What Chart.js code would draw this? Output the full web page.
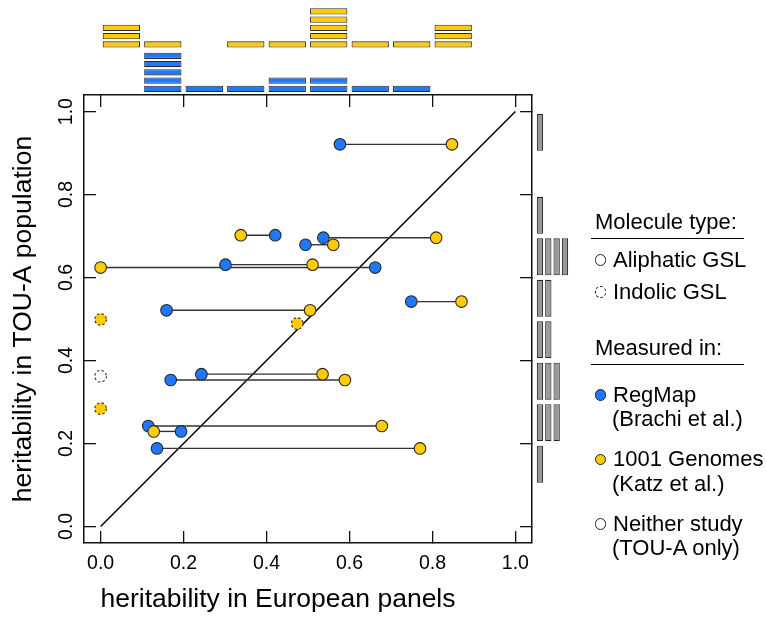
<!DOCTYPE html>
<html>
<head>
<meta charset="utf-8">
<script src="https://cdn.jsdelivr.net/npm/chart.js@4.4.1/dist/chart.umd.min.js"></script>
<style>
  body { margin: 0; background: #fff; font-family: "Liberation Sans", Arial, sans-serif; }
  #wrap { position: relative; width: 766px; height: 620px; overflow: hidden; }
  canvas { position: absolute; left: 0; top: 0; }
  .leg { position: absolute; font-size: 22px; line-height: 22px; white-space: nowrap; color: #000; }
  .rule { position: absolute; left: 591px; width: 153px; height: 0; border-top: 1.5px solid #000; }
  .dot { position: absolute; left: 594.5px; width: 9.5px; height: 9.5px; border-radius: 50%; border: 1px solid #222; background: #fff; }
  #xtitle { position: absolute; left: 0; width: 556px; top: 585px; text-align: center;
            font-size: 26.5px; line-height: 26.5px; white-space: nowrap; color: #000; }
</style>
</head>
<body>
<div id="wrap">
  <canvas id="main" width="766" height="620"></canvas>
  <canvas id="topHist" width="766" height="620"></canvas>
  <canvas id="sideHist" width="766" height="620"></canvas>

  <div id="xtitle">heritability in European panels</div>

  <div class="leg" style="left:595px; top:211px;">Molecule type:</div>
  <div class="rule" style="top:237.5px;"></div>
  <div class="dot" style="top:254px;"></div>
  <div class="leg" style="left:613px; top:249px;">Aliphatic GSL</div>
  <div class="dot" style="top:286px; border-style:dashed;"></div>
  <div class="leg" style="left:613px; top:281px;">Indolic GSL</div>

  <div class="leg" style="left:595px; top:337px;">Measured in:</div>
  <div class="rule" style="top:363.5px;"></div>
  <div class="dot" style="top:389px; background:#1f78ff;"></div>
  <div class="leg" style="left:613px; top:384px;">RegMap</div>
  <div class="leg" style="left:612px; top:408px;">(Brachi et al.)</div>
  <div class="dot" style="top:453.5px; background:#ffcc00;"></div>
  <div class="leg" style="left:613px; top:448px;">1001 Genomes</div>
  <div class="leg" style="left:612px; top:472.5px;">(Katz et al.)</div>
  <div class="dot" style="top:518px;"></div>
  <div class="leg" style="left:613px; top:512.5px;">Neither study</div>
  <div class="leg" style="left:612px; top:536.5px;">(TOU-A only)</div>
</div>
<script>
// aliphatic GSL traits found in both panels: TOU-A heritability and the two European estimates
const touA    = [0.921, 0.702, 0.696, 0.679, 0.631, 0.624, 0.542, 0.521, 0.367, 0.353, 0.242, 0.229, 0.188];
const regMap  = [0.577, 0.421, 0.537, 0.494, 0.301, 0.662, 0.749, 0.159, 0.243, 0.169, 0.115, 0.194, 0.136];
const genomes = [0.847, 0.338, 0.809, 0.561, 0.511, 0.000, 0.870, 0.505, 0.535, 0.589, 0.678, 0.128, 0.770];

// indolic GSL only in 1001 Genomes
const indolicTouA    = [0.499, 0.489, 0.284];
const indolicGenomes = [0.000, 0.474, 0.000];

// indolic GSL in neither study (sits on x = 0)
const neitherTouA   = [0.362];
const neitherEurope = [0.000];

const identity   = [0, 1];
const tickValues = [0, 0.2, 0.4, 0.6, 0.8, 1.0];
const tickLabels = ['0.0', '0.2', '0.4', '0.6', '0.8', '1.0'];
const binEdges   = [0, 0.1, 0.2, 0.3, 0.4, 0.5, 0.6, 0.7, 0.8, 0.9, 1.0];

const BLUE = '#1f78ff';
const YELLOW = '#ffcc00';
const RIM = '#2a2a2a';
const FONT = 'Liberation Sans';

function pairs(xs, ys) {
    return xs.map((x, i) => ({ x: x, y: ys[i] }));
}

function countBins(values) {
    const counts = binEdges.slice(1).map(() => 0);
    values.forEach(v => {
        let k = binEdges.findIndex((e, i) => i < binEdges.length - 1 && v >= e && v < binEdges[i + 1]);
        if (k < 0) k = counts.length - 1;
        counts[k]++;
    });
    return counts;
}

// one small box per observation, stacked from "base"
function cells(counts, base, horizontal) {
    const out = [];
    counts.forEach((n, k) => {
        const mid = (binEdges[k] + binEdges[k + 1]) / 2;
        for (let j = 0; j < n; j++) {
            const span = [base + j + 0.12, base + j + 0.88];
            out.push(horizontal ? { x: span, y: mid } : { x: mid, y: span });
        }
    });
    return out;
}

// dashed rim for the indolic points
const dashedRims = {
    id: 'dashedRims',
    beforeDatasetDraw(chart, args) {
        if (chart.data.datasets[args.index].dashed) chart.ctx.setLineDash([2.4, 2.2]);
    },
    afterDatasetDraw(chart) {
        chart.ctx.setLineDash([]);
    }
};

function binTicks(scale) {
    scale.ticks = binEdges.map(v => ({ value: v }));
}

window.onload = function() {
    const frame = { display: true, color: '#111', width: 1.5 };
    const inner = { drawOnChartArea: false, tickLength: -12, color: '#111', lineWidth: 1.3 };
    const setTicks = s => { s.ticks = tickValues.map(v => ({ value: v })); };

    // connecting segments, one per trait
    const segments = touA.map((y, i) => ({
        data: [{ x: regMap[i], y: y }, { x: genomes[i], y: y }],
        showLine: true, borderColor: '#333', borderWidth: 1.4,
        pointRadius: 0, order: 3
    }));

    const pointStyle = { pointRadius: 5.8, pointBorderWidth: 1.1, pointBorderColor: RIM, pointHoverRadius: 5.8 };

    new Chart(document.getElementById('main'), {
        type: 'scatter',
        data: {
            datasets: [
                Object.assign({ data: pairs(genomes, touA), pointBackgroundColor: YELLOW, order: 1 }, pointStyle),
                Object.assign({ data: pairs(indolicGenomes, indolicTouA), pointBackgroundColor: YELLOW, dashed: true, order: 1 }, pointStyle),
                Object.assign({ data: pairs(neitherEurope, neitherTouA), pointBackgroundColor: '#fff', dashed: true, order: 1 }, pointStyle),
                Object.assign({ data: pairs(regMap, touA), pointBackgroundColor: BLUE, order: 2 }, pointStyle),
                ...segments,
                { data: identity.map(v => ({ x: v, y: v })), showLine: true, borderColor: '#000', borderWidth: 1.5, pointRadius: 0, order: 4 }
            ]
        },
        options: {
            responsive: false,
            animation: false,
            devicePixelRatio: 1,
            layout: { padding: 0 },
            plugins: { legend: { display: false }, tooltip: { enabled: false } },
            scales: {
                x: {
                    type: 'linear', position: 'bottom', min: -0.04, max: 1.04,
                    afterBuildTicks: setTicks,
                    afterFit: s => { s.height = 77; },
                    grid: inner, border: frame,
                    ticks: { font: { family: FONT, size: 19.5 }, color: '#000', padding: 21, maxRotation: 0,
                             callback: (v, i) => tickLabels[i] }
                },
                x2: {
                    type: 'linear', position: 'top', min: -0.04, max: 1.04,
                    afterBuildTicks: setTicks,
                    afterFit: s => { s.height = 95; },
                    grid: inner, border: frame,
                    ticks: { display: false }
                },
                y: {
                    type: 'linear', position: 'left', min: -0.04, max: 1.04,
                    afterBuildTicks: setTicks,
                    afterFit: s => { s.width = 84; },
                    grid: inner, border: frame,
                    ticks: { font: { family: FONT, size: 19.5 }, color: '#000', padding: 16,
                             minRotation: 90, maxRotation: 90, crossAlign: 'center',
                             callback: (v, i) => tickLabels[i] },
                    title: { display: true, text: 'heritability in TOU-A population', color: '#000',
                             font: { family: FONT, size: 26.5 }, padding: { top: 8, bottom: 0 } }
                },
                y2: {
                    type: 'linear', position: 'right', min: -0.04, max: 1.04,
                    afterBuildTicks: setTicks,
                    afterFit: s => { s.width = 234; },
                    grid: inner, border: frame,
                    ticks: { display: false }
                }
            }
        },
        plugins: [dashedRims]
    });

    // top margin: RegMap below, 1001 Genomes stacked above it
    const blueCounts = countBins(regMap);
    const yellowCounts = countBins(genomes.concat(indolicGenomes));
    const yellowBase = Math.max(...blueCounts) + 0.37;

    new Chart(document.getElementById('topHist'), {
        type: 'bar',
        data: {
            datasets: [
                { data: cells(blueCounts, 0, false), backgroundColor: BLUE },
                { data: cells(yellowCounts, yellowBase, false), backgroundColor: YELLOW }
            ]
        },
        options: {
            responsive: false, animation: false, devicePixelRatio: 1,
            layout: { padding: { left: 84, right: 234, top: 2, bottom: 527 } },
            datasets: { bar: { grouped: false, barPercentage: 0.9, categoryPercentage: 1,
                               borderColor: RIM, borderWidth: 1.1, borderSkipped: false } },
            plugins: { legend: { display: false }, tooltip: { enabled: false } },
            scales: {
                x: { type: 'linear', display: false, offset: false, min: -0.04, max: 1.04, afterBuildTicks: binTicks },
                y: { type: 'linear', display: false, min: 0, max: 11 }
            }
        }
    });

    // right margin: all TOU-A heritabilities
    const sideCounts = countBins(touA.concat(indolicTouA, neitherTouA));

    new Chart(document.getElementById('sideHist'), {
        type: 'bar',
        data: {
            datasets: [
                { data: cells(sideCounts, 0, true), backgroundColor: '#999999' }
            ]
        },
        options: {
            indexAxis: 'y',
            responsive: false, animation: false, devicePixelRatio: 1,
            layout: { padding: { left: 535.8, right: 188.5, top: 95, bottom: 77 } },
            datasets: { bar: { grouped: false, barPercentage: 0.89, categoryPercentage: 1,
                               borderColor: RIM, borderWidth: 1.1, borderSkipped: false } },
            plugins: { legend: { display: false }, tooltip: { enabled: false } },
            scales: {
                x: { type: 'linear', display: false, min: 0, max: 5 },
                y: { type: 'linear', display: false, offset: false, min: -0.04, max: 1.04, afterBuildTicks: binTicks }
            }
        }
    });
};
</script>
</body>
</html>
